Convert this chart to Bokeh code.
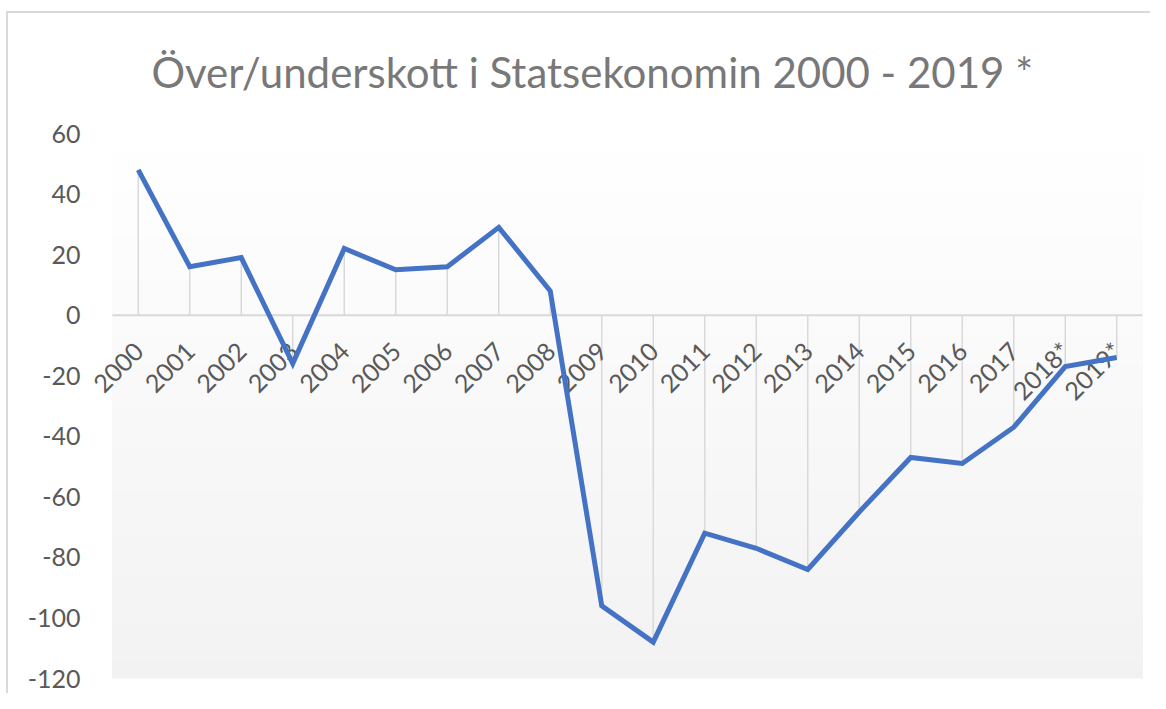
import math
import numpy as np
from bokeh.plotting import figure
from bokeh.models import Range1d, FixedTicker
from bokeh.embed import file_html
from bokeh.resources import INLINE

# ---- data ----
years = ["2000", "2001", "2002", "2003", "2004", "2005", "2006", "2007", "2008", "2009",
         "2010", "2011", "2012", "2013", "2014", "2015", "2016", "2017", "2018*", "2019*"]
balance = [48, 16, 19, -16, 22, 15, 16, 29, 8, -96,
           -108, -72, -77, -84, -65, -47, -49, -37, -17, -14]
y_ticks = [-120, -100, -80, -60, -40, -20, 0, 20, 40, 60]
title_text = "Över/underskott  i Statsekonomin  2000 - 2019 *"

FONT = "Lato"
LABEL_COLOR = "#595959"

xpos = list(range(len(years)))          # category slots
slot_left, slot_right = -0.5, len(years) - 0.5

W, H = 1150, 693
FRAME_L, FRAME_R = 89, 1150
FRAME_T, FRAME_B = 133, 678
px_per_slot = 51.5
x_start = slot_left - (112 - FRAME_L) / px_per_slot
x_end = x_start + (FRAME_R - FRAME_L) / px_per_slot

p = figure(width=W, height=H,
           x_range=Range1d(x_start, x_end),
           y_range=Range1d(y_ticks[0], y_ticks[-1]),
           output_backend="svg", toolbar_location=None,
           min_border_left=FRAME_L, min_border_right=W - FRAME_R,
           min_border_top=FRAME_T, min_border_bottom=H - FRAME_B,
           styles={"background":
                   "linear-gradient(#d9d9d9, #d9d9d9) 6px 11px / 2px 100% no-repeat, "
                   "linear-gradient(#d9d9d9, #d9d9d9) 6px 11px / 100% 2px no-repeat, #ffffff"})
p.outline_line_color = None
p.xgrid.visible = False
p.ygrid.visible = False
p.background_fill_color = None
p.border_fill_color = None

# gradient plot-area background (white at top -> light grey at bottom)
n = 90
edges = np.linspace(y_ticks[0], y_ticks[-1], n + 1)
bottoms = edges[:-1]
tops = edges[1:]
mid = (bottoms + tops) / 2
t = (y_ticks[-1] - mid) / (y_ticks[-1] - y_ticks[0])
g = 255 - 13 * t
cols = ["#%02x%02x%02x" % (int(round(v)), int(round(v)), int(round(v))) for v in g]
p.quad(left=slot_left, right=slot_right, bottom=bottoms, top=tops,
       fill_color=cols, line_color=cols, line_width=1, level="underlay")

# zero baseline across the plot area
p.segment(x0=[slot_left], y0=[0], x1=[slot_right], y1=[0], line_color="#d9d9d9", line_width=2)

# drop lines
p.segment(x0=xpos, y0=0, x1=xpos, y1=balance, line_color="#d9d9d9", line_width=1.5)

# main line
p.line(x=xpos, y=balance, line_color="#4472c4", line_width=5,
       line_join="miter", level="overlay")

# y axis
ya = p.yaxis[0]
ya.ticker = FixedTicker(ticks=y_ticks)
ya.major_label_overrides = {v: str(v) for v in y_ticks}
ya.axis_line_color = None
ya.major_tick_line_color = None
ya.minor_tick_line_color = None
ya.major_label_standoff = 3
ya.major_label_text_font = FONT
ya.major_label_text_font_size = "25px"
ya.major_label_text_color = LABEL_COLOR

# x axis at zero
xa = p.xaxis[0]
xa.fixed_location = 0
xa.ticker = FixedTicker(ticks=xpos)
xa.major_label_overrides = {i: yr for i, yr in zip(xpos, years)}
xa.axis_line_color = None
xa.major_tick_line_color = None
xa.minor_tick_line_color = None
xa.major_label_orientation = math.pi / 4
xa.major_label_standoff = 25
xa.major_label_text_font = FONT
xa.major_label_text_font_size = "25px"
xa.major_label_text_color = LABEL_COLOR

# title
p.title.text = title_text
p.title.align = "left"
p.title.offset = 62
p.title.standoff = 73
p.title.text_font = FONT
p.title.text_font_size = "42px"
p.title.text_font_style = "normal"
p.title.text_color = "#787878"

open("out.html", "w").write(file_html(p, INLINE))
